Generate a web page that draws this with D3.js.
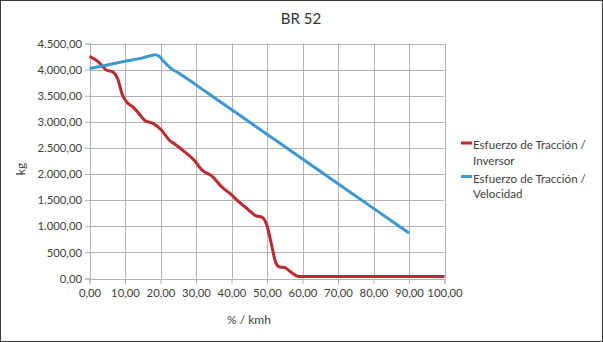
<!DOCTYPE html>
<html><head><meta charset="utf-8">
<script src="https://cdn.jsdelivr.net/npm/d3@7"></script>
<style>
html,body{margin:0;padding:0;background:#fff;}
svg{display:block;font-family:Lato, "Open Sans", sans-serif;}
</style></head>
<body>
<svg id="chart" width="603" height="342"></svg>
<script>
const title = "BR 52";
const xLabel = "% / kmh";
const yLabel = "kg";
const xTicks = [0,10,20,30,40,50,60,70,80,90,100];
const yTicks = [0,500,1000,1500,2000,2500,3000,3500,4000,4500];
const seriesNames = [["Esfuerzo de Tracción /","Inversor"],["Esfuerzo de Tracción /","Velocidad"]];
const seriesColors = ["#c0282f","#3b98d3"];
// Inversor series
const invX = [0,2.5,4.6,6.8,7.9,9.3,10.6,12.2,13.9,15.5,18,20.3,22.5,24.1,26.8,29.5,31.7,34.4,37.7,39.8,42,44.7,46.9,48.6,50.1,51.2,52.5,53.6,55,56.6,58.6,60.5,70,80,90,100];
const invY = [4255,4150,4000,3945,3830,3510,3370,3285,3160,3030,2965,2840,2648,2570,2425,2265,2075,1965,1725,1615,1470,1320,1200,1175,990,670,300,220,210,128,45,38,38,38,38,38];
// Velocidad series
const velX = [0,5,10,15,17,18.5,19.6,21,23,25,27,30,40,50,60,70,80,90];
const velY = [4020,4090,4160,4225,4260,4285,4255,4150,4020,3940,3850,3708,3235,2762,2289,1816,1343,870];

const svg = d3.select("#chart");
const W = 603, H = 342;
svg.append("rect").attr("x",0.5).attr("y",0.5).attr("width",W-1).attr("height",H-1)
  .attr("fill","#fff").attr("stroke","#3a3a3a").attr("stroke-width",1);

const x = d3.scaleLinear().domain([0,100]).range([89.5,444.5]);
const y = d3.scaleLinear().domain([0,4500]).range([278.5,43.5]);

const fmt = v => {
  const s = v.toFixed(2).split(".");
  const intPart = s[0].replace(/\B(?=(\d{3})+(?!\d))/g, ".");
  return intPart + "," + s[1];
};

// gridlines
const g = svg.append("g");
g.selectAll("line.hg").data(yTicks).join("line")
  .attr("x1",x(0)).attr("x2",x(100)).attr("y1",d=>Math.round(y(d))+0.5).attr("y2",d=>Math.round(y(d))+0.5)
  .attr("stroke","#b3b3b3").attr("stroke-width",1);
g.selectAll("line.vg").data(xTicks).join("line")
  .attr("x1",d=>Math.round(x(d))+0.5).attr("x2",d=>Math.round(x(d))+0.5).attr("y1",y(4500)).attr("y2",y(0))
  .attr("stroke","#b3b3b3").attr("stroke-width",1);

// axes
const xAxis = d3.axisBottom(x).tickValues(xTicks).tickFormat(fmt).tickSize(5).tickPadding(5);
const yAxis = d3.axisLeft(y).tickValues(yTicks).tickFormat(fmt).tickSize(5).tickPadding(3);
const gx = svg.append("g").attr("transform",`translate(0,${Math.round(y(0))})`).call(xAxis);
const gy = svg.append("g").attr("transform",`translate(${Math.round(x(0))},0)`).call(yAxis);
[gx,gy].forEach(a=>{
  a.select(".domain").attr("stroke","#b3b3b3");
  a.selectAll(".tick line").attr("stroke","#b3b3b3");
  a.selectAll("text").attr("fill","#404040").style("font-size","11.3px").style("font-family","Lato, sans-serif");
});

// lines
const invData = invX.map((v,i)=>[v,invY[i]]);
const velData = velX.map((v,i)=>[v,velY[i]]);
const line = d3.line().x(d=>x(d[0])).y(d=>y(d[1])).curve(d3.curveMonotoneX);
svg.append("path").datum(invData).attr("d",line).attr("fill","none")
  .attr("stroke",seriesColors[0]).attr("stroke-width",3).attr("stroke-linejoin","round");
svg.append("path").datum(velData).attr("d",line).attr("fill","none")
  .attr("stroke",seriesColors[1]).attr("stroke-width",3).attr("stroke-linejoin","round");

// title and labels
svg.append("text").attr("x",301).attr("y",24).attr("text-anchor","middle")
  .attr("fill","#333").style("font-size","15px").text(title);
svg.append("text").attr("x",249).attr("y",324).attr("text-anchor","middle")
  .attr("fill","#404040").style("font-size","12px").text(xLabel);
svg.append("text").attr("transform","translate(25,169) rotate(-90)").attr("text-anchor","middle")
  .attr("fill","#404040").style("font-size","12px").text(yLabel);

// legend
const legTop = [145,178.5];
seriesNames.forEach((nm,i)=>{
  const ly = legTop[i];
  svg.append("line").attr("x1",461).attr("x2",472).attr("y1",ly-2).attr("y2",ly-2)
    .attr("stroke",seriesColors[i]).attr("stroke-width",3);
  nm.forEach((t,j)=>{
    svg.append("text").attr("x",473).attr("y",ly+4+j*15.5).attr("fill","#404040")
      .style("font-size","11.6px").text(t);
  });
});
</script>
</body></html>
